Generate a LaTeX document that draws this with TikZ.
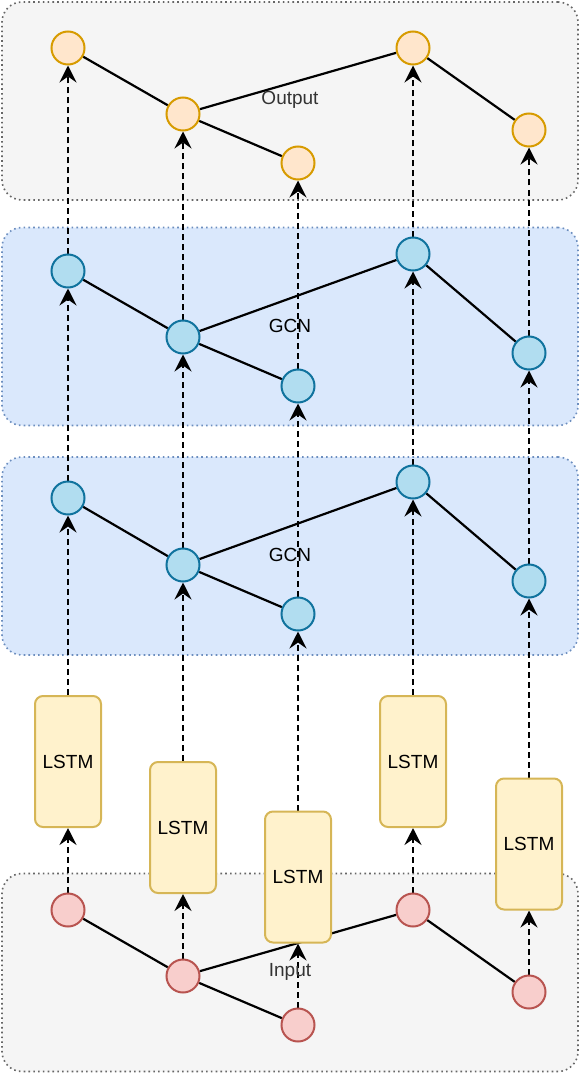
\documentclass[tikz,border=0pt]{standalone}
\usepackage{fontspec}
\setmainfont{Liberation Sans}
\usetikzlibrary{arrows.meta}
\definecolor{outfill}{HTML}{FFE6CC}
\definecolor{outdraw}{HTML}{D79B00}
\definecolor{gcnfill}{HTML}{B1DDF0}
\definecolor{gcndraw}{HTML}{10739E}
\definecolor{infill}{HTML}{F8CECC}
\definecolor{indraw}{HTML}{B85450}
\definecolor{lstmfill}{HTML}{FFF2CC}
\definecolor{lstmdraw}{HTML}{D6B656}
\definecolor{grayfill}{HTML}{F5F5F5}
\definecolor{graydraw}{HTML}{666666}
\definecolor{bluefill}{HTML}{DAE8FC}
\definecolor{bluedraw}{HTML}{6C8EBF}
\definecolor{txtgray}{HTML}{333333}
\pgfdeclarelayer{bg}
\pgfdeclarelayer{edges}
\pgfsetlayers{bg,edges,main}
\begin{document}
\begin{tikzpicture}[x=1pt,y=-1pt,
  panel/.style={rounded corners=20pt, line width=1.6pt, dash pattern=on 1.6pt off 3.2pt, minimum width=576pt, minimum height=198pt, inner sep=0pt},
  graypanel/.style={panel, fill=grayfill, draw=graydraw},
  bluepanel/.style={panel, fill=bluefill, draw=bluedraw},
  vert/.style={circle, minimum size=33pt, inner sep=0pt, line width=2pt},
  outv/.style={vert, fill=outfill, draw=outdraw},
  gcnv/.style={vert, fill=gcnfill, draw=gcndraw},
  inv/.style={vert, fill=infill, draw=indraw},
  lstm/.style={rounded corners=8pt, fill=lstmfill, draw=lstmdraw, line width=2pt, minimum width=66pt, minimum height=131pt, inner sep=0pt, font=\fontsize{19}{23}\selectfont},
  lbl/.style={inner sep=0pt, font=\fontsize{19}{23}\selectfont},
  link/.style={line width=2.2pt, black},
  flow/.style={line width=2.2pt, black, dash pattern=on 6pt off 4pt, -{Stealth[length=17pt, width=17pt, inset=6pt]}}
]
\useasboundingbox (0,0) rectangle (581,1078);
\begin{pgfonlayer}{bg}
\node[graypanel] (outpanel) at (290,101) {};
\node[bluepanel] (gcnApanel) at (290,326.5) {};
\node[bluepanel] (gcnBpanel) at (290,556) {};
\node[graypanel] (inpanel) at (290,972.5) {};
\end{pgfonlayer}

\node[lbl, text=txtgray] (outlbl) at (290,100) {Output};
\node[lbl] (gcnAlbl) at (290,326) {GCN};
\node[lbl] (gcnBlbl) at (290,555) {GCN};
\node[lbl, text=txtgray] (inlbl) at (290,972) {Input};

% output
\node[outv] (o1) at (68,48) {};
\node[outv] (o2) at (183,114) {};
\node[outv] (o3) at (298,163) {};
\node[outv] (o4) at (413,48) {};
\node[outv] (o5) at (529,130) {};
% gcn A (upper)
\node[gcnv] (a1) at (68,271) {};
\node[gcnv] (a2) at (183,337) {};
\node[gcnv] (a3) at (298,386) {};
\node[gcnv] (a4) at (413,254) {};
\node[gcnv] (a5) at (529,353) {};
% gcn B (lower)
\node[gcnv] (b1) at (68,498) {};
\node[gcnv] (b2) at (183,565) {};
\node[gcnv] (b3) at (298,614) {};
\node[gcnv] (b4) at (413,482) {};
\node[gcnv] (b5) at (529,581) {};
% input
\node[inv] (i1) at (68,910) {};
\node[inv] (i2) at (183,976) {};
\node[inv] (i3) at (298,1025) {};
\node[inv] (i4) at (413,910) {};
\node[inv] (i5) at (529,992) {};
% lstm
\node[lstm] (l1) at (68,761.5) {LSTM};
\node[lstm] (l2) at (183,827.5) {LSTM};
\node[lstm] (l3) at (298,877) {LSTM};
\node[lstm] (l4) at (413,761.5) {LSTM};
\node[lstm] (l5) at (529,844) {LSTM};

\begin{pgfonlayer}{edges}
\foreach \p in {o,a,b,i}{
  \draw[link] (\p1) -- (\p2);
  \draw[link] (\p2) -- (\p3);
  \draw[link] (\p2) -- (\p4);
  \draw[link] (\p4) -- (\p5);
}
\foreach \c in {1,...,5}{
  \draw[flow] (i\c) -- (l\c);
  \draw[flow] (l\c) -- (b\c);
  \draw[flow] (b\c) -- (a\c);
  \draw[flow] (a\c) -- (o\c);
}
\end{pgfonlayer}
\end{tikzpicture}
\end{document}
